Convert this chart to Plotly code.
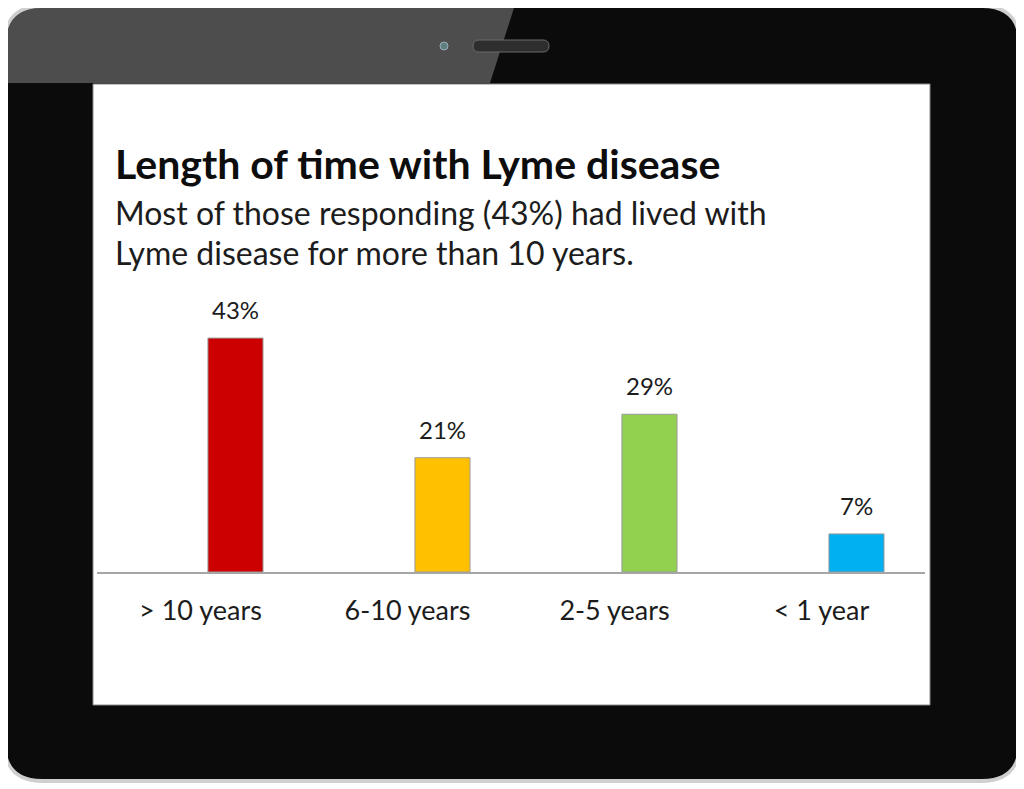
import plotly.graph_objects as go

# --- data ---
categories = ['> 10 years', '6-10 years', '2-5 years', '< 1 year']
shares = [43, 21, 29, 7]
bar_colors = ['#CC0000', '#FFC000', '#92D050', '#00B0F0']

title_text = 'Length of time with Lyme disease'
subtitle_lines = ['Most of those responding (43%) had lived with',
                  'Lyme disease for more than 10 years.']

# --- canvas / plot area ---
W, H = 1024, 789
OFF = 8  # page body margin, layout below is in on-screen pixels
AX_L, AX_R, AX_TOP, AX_BASE = 97, 925, 300, 572
M_L = AX_L - OFF
M_R = W - M_L - (AX_R - AX_L)
M_T = AX_TOP - OFF
M_B = H - (AX_BASE - OFF)
PW, PH = AX_R - AX_L, AX_BASE - AX_TOP
FONT = 'Lato'
INK = '#1c1c1c'

BAR_W = 0.266
BAR_OFFSET = 0.036  # bars sit a little right of the category centre


def px(x):
    return (x - AX_L) / PW


def py(y):
    return (AX_BASE - y) / PH


def rounded_rect(x0, y0, x1, y1, r):
    # rounded rectangle path in paper coords from on-screen pixel corners
    pts = [
        f"M {px(x0 + r)} {py(y0)}",
        f"L {px(x1 - r)} {py(y0)}",
        f"Q {px(x1)} {py(y0)} {px(x1)} {py(y0 + r)}",
        f"L {px(x1)} {py(y1 - r)}",
        f"Q {px(x1)} {py(y1)} {px(x1 - r)} {py(y1)}",
        f"L {px(x0 + r)} {py(y1)}",
        f"Q {px(x0)} {py(y1)} {px(x0)} {py(y1 - r)}",
        f"L {px(x0)} {py(y0 + r)}",
        f"Q {px(x0)} {py(y0)} {px(x0 + r)} {py(y0)}",
        "Z",
    ]
    return ' '.join(pts)


idx = list(range(len(categories)))

fig = go.Figure()
fig.add_trace(go.Bar(
    x=idx, y=shares, width=BAR_W, offset=BAR_OFFSET,
    marker=dict(color=bar_colors, line=dict(color='#9a9a9a', width=1)),
    hoverinfo='skip',
))

# value labels above each bar
for i, val in zip(idx, shares):
    fig.add_annotation(x=i + BAR_OFFSET + BAR_W / 2, y=val, text=f'{val}%',
                       showarrow=False, yanchor='bottom', yshift=12,
                       font=dict(family=FONT, size=24, color=INK))

# --- tablet frame ---
shapes = []
shapes.append(dict(type='path', path=rounded_rect(3, 4, 1021, 783, 40),
                   xref='paper', yref='paper', layer='below',
                   fillcolor='#cfcfcf', line=dict(width=0)))
shapes.append(dict(type='path', path=rounded_rect(6, 8, 1018, 779, 36),
                   xref='paper', yref='paper', layer='below',
                   fillcolor='#0b0b0b', line=dict(width=0)))
# glossy reflection in the top-left
gloss = (f"M {px(6)} {py(83)} L {px(6)} {py(44)} "
         f"Q {px(6)} {py(8)} {px(42)} {py(8)} "
         f"L {px(514)} {py(8)} L {px(490)} {py(83)} Z")
shapes.append(dict(type='path', path=gloss, xref='paper', yref='paper',
                   layer='below', fillcolor='rgba(255,255,255,0.27)',
                   line=dict(width=0)))
# screen
shapes.append(dict(type='rect', x0=px(93), x1=px(930), y0=py(705), y1=py(84),
                   xref='paper', yref='paper', layer='below',
                   fillcolor='white', line=dict(color='#8a8a8a', width=1)))
# camera and speaker
shapes.append(dict(type='circle', x0=px(440), x1=px(448), y0=py(50), y1=py(42),
                   xref='paper', yref='paper', layer='below',
                   fillcolor='#5f7f7f', line=dict(color='#9ab', width=1)))
shapes.append(dict(type='path', path=rounded_rect(473, 40, 549, 52, 6),
                   xref='paper', yref='paper', layer='below',
                   fillcolor='#2e2e2e', line=dict(color='#6a6a6a', width=1)))

# title and subtitle
fig.add_annotation(x=px(113), y=py(163), xref='paper', yref='paper',
                   text=f'<b>{title_text}</b>', showarrow=False,
                   xanchor='left', yanchor='middle',
                   font=dict(family=FONT, size=41, color='#0d0d0d'))
for i, line in enumerate(subtitle_lines):
    fig.add_annotation(x=px(113), y=py(212 + 40 * i), xref='paper', yref='paper',
                       text=line, showarrow=False,
                       xanchor='left', yanchor='middle',
                       font=dict(family=FONT, size=32, color=INK))

fig.update_layout(
    width=W, height=H, autosize=False,
    margin=dict(l=M_L, r=M_R, t=M_T, b=M_B),
    paper_bgcolor='white', plot_bgcolor='rgba(0,0,0,0)',
    showlegend=False, shapes=shapes,
    font=dict(family=FONT, color=INK),
)
fig.update_xaxes(range=[-0.5, 3.5], tickvals=idx, ticktext=categories,
                 showline=True, linecolor='#a6a6a6', linewidth=1.5,
                 ticks='outside', ticklen=14, tickcolor='rgba(0,0,0,0)',
                 showgrid=False, zeroline=False,
                 tickfont=dict(family=FONT, size=27, color=INK))
fig.update_yaxes(range=[0, 50], visible=False, showgrid=False)

fig.write_html('out.html')
